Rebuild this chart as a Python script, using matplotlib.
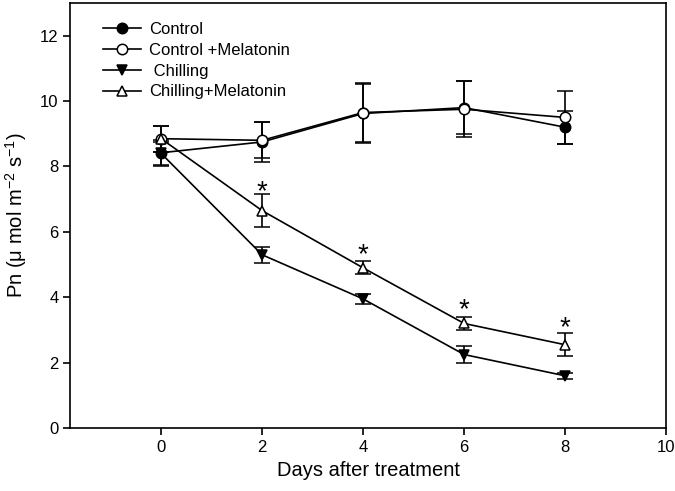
import numpy as np
import matplotlib
matplotlib.use("Agg")
from matplotlib import pyplot as plt
from matplotlib.lines import Line2D

plt.rcParams['font.family'] = ['Liberation Sans', 'DejaVu Sans']

days = [0, 2, 4, 6, 8]

control = [8.42, 8.75, 9.62, 9.8, 9.2]
control_err = [0.4, 0.6, 0.9, 0.8, 0.5]

control_mel = [8.85, 8.8, 9.65, 9.75, 9.5]
control_mel_err = [0.4, 0.55, 0.9, 0.85, 0.8]

chilling = [8.4, 5.3, 3.95, 2.25, 1.6]
chilling_err = [0.35, 0.25, 0.15, 0.25, 0.1]

chilling_mel = [8.85, 6.65, 4.9, 3.2, 2.55]
chilling_mel_err = [0.4, 0.5, 0.2, 0.2, 0.35]

star_days = [2, 4, 6, 8]
star_y = [7.2, 5.3, 3.6, 3.05]

labels = ['Control', 'Control +Melatonin', ' Chilling', 'Chilling+Melatonin']
markers = ['o', 'o', 'v', '^']
faces = ['black', 'white', 'black', 'white']
series = [(control, control_err), (control_mel, control_mel_err),
          (chilling, chilling_err), (chilling_mel, chilling_mel_err)]

fig = plt.figure(figsize=(6.75, 4.91), dpi=100)
ax = fig.add_axes([0.104, 0.128, 0.883, 0.866])

handles = []
for (vals, err), m, fc, lab in zip(series, markers, faces, labels):
    ax.errorbar(days, vals, yerr=err, fmt='-' + m, color='black', lw=1.2, ms=7.5,
                mfc=fc, mec='black', mew=1.1, capsize=6, elinewidth=1.2,
                capthick=1.2)
    handles.append(Line2D([], [], color='black', lw=1.2, marker=m, ms=7.5,
                          mfc=fc, mec='black', mew=1.1, label=lab))

for d, y in zip(star_days, star_y):
    ax.text(d, y, '*', ha='center', va='center', fontsize=20)

ax.set_xlim(-1.8, 10)
ax.set_ylim(0, 13)
ax.set_xticks([0, 2, 4, 6, 8, 10])
ax.set_yticks([0, 2, 4, 6, 8, 10, 12])
ax.tick_params(direction='out', length=5, width=1.2, labelsize=12, top=False, right=False)
for s in ax.spines.values():
    s.set_linewidth(1.2)

ax.set_xlabel('Days after treatment', fontsize=14.5)
ax.set_ylabel(r'Pn ($\mathregular{\mu}$ mol m$\mathregular{^{-2}}$ s$\mathregular{^{-1}}$)',
              fontsize=14.5, labelpad=8)

ax.legend(handles=handles, loc='upper left', frameon=False, fontsize=12,
          handlelength=2.3, handletextpad=0.5, labelspacing=0.35,
          borderaxespad=0.3, bbox_to_anchor=(0.035, 0.983))

fig.savefig('out.png', dpi=100)
